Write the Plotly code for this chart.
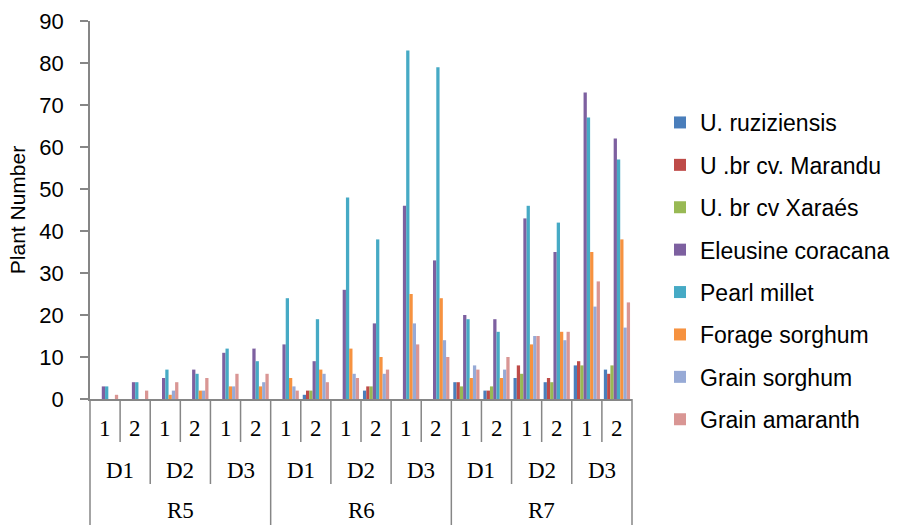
import plotly.graph_objects as go

# ---- data ----
level1 = ["1", "2"] * 9
level2 = ["D1", "D2", "D3"] * 3
level3 = ["R5", "R6", "R7"]

series_names = ["U. ruziziensis", "U .br cv. Marandu", "U. br cv Xaraés",
                "Eleusine coracana", "Pearl millet", "Forage sorghum",
                "Grain sorghum", "Grain amaranth"]

u_ruziziensis     = [0, 0, 0, 0, 0, 0, 0, 1, 0, 2, 0, 0, 4, 2, 5, 4, 8, 7]
u_marandu         = [0, 0, 0, 0, 0, 0, 0, 2, 0, 3, 0, 0, 4, 2, 8, 5, 9, 6]
u_xaraes          = [0, 0, 0, 0, 0, 0, 0, 2, 0, 3, 0, 0, 3, 3, 6, 4, 8, 8]
eleusine_coracana = [3, 4, 5, 7, 11, 12, 13, 9, 26, 18, 46, 33, 20, 19, 43, 35, 73, 62]
pearl_millet      = [3, 4, 7, 6, 12, 9, 24, 19, 48, 38, 83, 79, 19, 16, 46, 42, 67, 57]
forage_sorghum    = [0, 0, 1, 2, 3, 3, 5, 7, 12, 10, 25, 24, 5, 5, 13, 16, 35, 38]
grain_sorghum     = [0, 0, 2, 2, 3, 4, 3, 6, 6, 6, 18, 14, 8, 7, 15, 14, 22, 17]
grain_amaranth    = [1, 2, 4, 5, 6, 6, 2, 4, 5, 7, 13, 10, 7, 10, 15, 16, 28, 23]

series_values = [u_ruziziensis, u_marandu, u_xaraes, eleusine_coracana,
                 pearl_millet, forage_sorghum, grain_sorghum, grain_amaranth]

colors = ["#4A7EBB", "#BE4B48", "#98B954", "#7D60A0",
          "#46AAC5", "#F69240", "#97AAD6", "#D99694"]

n = len(level1)
xs = list(range(n))

fig = go.Figure()
for name, vals, col in zip(series_names, series_values, colors):
    fig.add_trace(go.Bar(x=xs, y=vals, name=name, legendgroup=name,
                         marker=dict(color=col, line=dict(width=0))))

GRID = "#868686"
LW = 1.5

# pixel -> paper helpers (plot area: x 90..632, y 21..399)
L, R, T, B = 90, 632, 21, 399
H = B - T
def py(y):
    return (B - y) / H
def px(x):
    return (x - L) / (R - L)

shapes = []
# category boundaries
for b in range(n + 1):
    xp = b / n
    if b % 6 == 0:
        y1 = py(525)
    elif b % 2 == 0:
        y1 = py(484)
    else:
        y1 = py(442)
    shapes.append(dict(type="line", xref="paper", yref="paper", x0=xp, x1=xp,
                       y0=0, y1=y1, line=dict(color=GRID, width=LW)))

annotations = []
tf = dict(family="Liberation Serif, Times New Roman, serif", size=23, color="#000000")
for i, lab in enumerate(level1):
    annotations.append(dict(x=(i + 0.5) / n, y=py(428), xref="paper", yref="paper",
                            text=lab, showarrow=False, font=tf,
                            xanchor="center", yanchor="middle"))
for j, lab in enumerate(level2):
    annotations.append(dict(x=(2 * j + 1) / n, y=py(470), xref="paper", yref="paper",
                            text=lab, showarrow=False, font=tf,
                            xanchor="center", yanchor="middle"))
for k, lab in enumerate(level3):
    annotations.append(dict(x=(6 * k + 3) / n, y=py(510), xref="paper", yref="paper",
                            text=lab, showarrow=False, font=tf,
                            xanchor="center", yanchor="middle"))

fig.update_layout(
    width=899, height=525,
    margin=dict(l=L, r=899 - R, t=T, b=525 - B, pad=0, autoexpand=False),
    paper_bgcolor="white", plot_bgcolor="white",
    barmode="group", bargap=0.13, bargroupgap=0,
    font=dict(family="Liberation Sans, Arial, sans-serif", size=21, color="#000000"),
    xaxis=dict(range=[-0.5, n - 0.5], showticklabels=False, ticks="",
               showgrid=False, zeroline=False, showline=True, automargin=False,
               linecolor=GRID, linewidth=LW, fixedrange=True),
    yaxis=dict(range=[0, 90], dtick=10, tick0=0, showgrid=False, zeroline=False,
               showline=True, linecolor=GRID, linewidth=LW, automargin=False,
               ticks="outside", ticklen=8, tickcolor=GRID, tickwidth=LW,
               ticklabelstandoff=12,
               tickfont=dict(size=22),
               title=dict(text="Plant Number", font=dict(size=21), standoff=8)),
    legend=dict(x=px(660), xanchor="left", y=py(101), yanchor="top",
                traceorder="grouped", tracegroupgap=9.5,
                font=dict(size=23), bgcolor="rgba(0,0,0,0)"),
    shapes=shapes, annotations=annotations,
)

fig.write_html(
    "out.html",
    config={"displayModeBar": False},
    post_script="document.body.style.margin='0';document.body.style.overflow='hidden';",
)
